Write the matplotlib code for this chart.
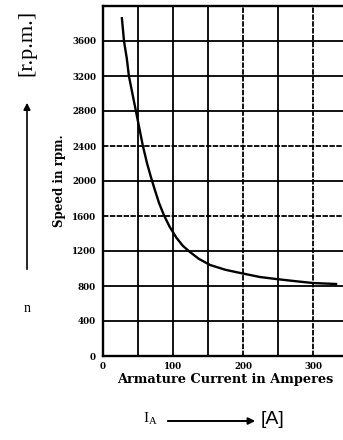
import matplotlib
matplotlib.use("Agg")
import matplotlib.pyplot as plt
from matplotlib.patches import FancyArrowPatch

# data
current_A = [27, 30, 34, 37, 42, 47, 52, 57, 63, 69, 74, 80, 87, 95, 105, 114, 124,
             137, 153, 175, 196, 224, 247, 275, 300, 333]
speed_rpm = [3860, 3600, 3400, 3200, 3000, 2800, 2600, 2400, 2200, 2030, 1900, 1750, 1610,
             1480, 1350, 1260, 1190, 1110, 1040, 985, 949, 903, 880, 855, 834, 823]
x_ticks = [0, 100, 200, 300]
y_ticks = [0, 400, 800, 1200, 1600, 2000, 2400, 2800, 3200, 3600]
x_grid = [50, 100, 150, 200, 250, 300]
y_grid = [400, 800, 1200, 1600, 2000, 2400, 2800, 3200, 3600]
dashed_x = [200, 300]
dashed_y = [1600, 2400]

W, H = 343, 440
fig = plt.figure(figsize=(W / 100, H / 100), dpi=100)
ax = fig.add_axes([103 / W, 1 - 356 / H, 245 / W, 350 / H])
ax.set_xlim(0, 350)
ax.set_ylim(0, 4000)

for gx in x_grid:
    ax.axvline(gx, color="black", lw=1.3, ls=(0, (3, 0.8)) if gx in dashed_x else "-", zorder=1)
for gy in y_grid:
    ax.axhline(gy, color="black", lw=1.3, ls=(0, (3, 0.8)) if gy in dashed_y else "-", zorder=1)

ax.plot(current_A, speed_rpm, color="black", lw=1.7, zorder=3, solid_joinstyle="round")

for s in ax.spines.values():
    s.set_linewidth(1.7)
ax.set_xticks(x_ticks)
ax.set_yticks(y_ticks)
fnt = dict(family="DejaVu Serif", weight="bold", size=6.3)
ax.set_xticklabels([str(v) for v in x_ticks], **fnt)
ax.set_yticklabels([str(v) for v in y_ticks], **fnt)
ax.tick_params(axis="y", length=0, pad=5)
ax.tick_params(axis="x", length=0, pad=4)

ax.set_xlabel("Armature Current in Amperes", family="DejaVu Serif", weight="bold", size=9.3, labelpad=2)
ax.set_ylabel("Speed in rpm.", family="DejaVu Serif", weight="bold", size=8.5, labelpad=4)

# outer annotations
fig.text(27 / W, 1 - 43 / H, "[r.p.m.]", rotation=90, ha="center", va="center",
         family="Liberation Serif", size=16)
fig.add_artist(FancyArrowPatch((27 / W, 1 - 272 / H), (27 / W, 1 - 100 / H),
               transform=fig.transFigure, arrowstyle="-|>", mutation_scale=10, color="black", lw=1.2))
fig.text(27 / W, 1 - 308 / H, "n", ha="center", va="center", family="Liberation Serif", size=10)

fig.text(150 / W, 1 - 419 / H, r"I$_\mathregular{A}$", ha="center", va="center",
         family="Liberation Serif", size=11)
fig.add_artist(FancyArrowPatch((165 / W, 1 - 421 / H), (258 / W, 1 - 421 / H),
               transform=fig.transFigure, arrowstyle="-|>", mutation_scale=10, color="black", lw=1.4))
fig.text(272 / W, 1 - 419 / H, "[A]", ha="center", va="center", family="Liberation Sans", size=14)

fig.savefig("out.png", dpi=100)
